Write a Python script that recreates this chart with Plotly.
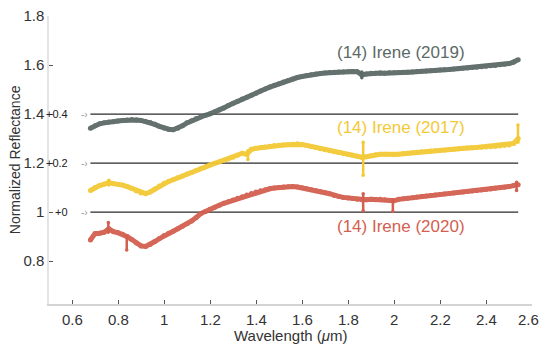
import plotly.graph_objects as go

# Wavelength grid (micrometres)
wavelength = [0.68, 0.70, 0.72, 0.74, 0.76, 0.78, 0.80, 0.82, 0.84, 0.86, 0.88, 0.90,
              0.92, 0.94, 0.96, 0.98, 1.00, 1.02, 1.04, 1.06, 1.08, 1.10, 1.12, 1.14,
              1.16, 1.18, 1.20, 1.22, 1.24, 1.26, 1.28, 1.30, 1.32, 1.34, 1.36, 1.38,
              1.40, 1.42, 1.44, 1.46, 1.48, 1.50, 1.52, 1.54, 1.56, 1.58, 1.60, 1.62,
              1.64, 1.66, 1.68, 1.70, 1.72, 1.74, 1.76, 1.78, 1.80, 1.82, 1.84, 1.86,
              1.88, 1.90, 1.92, 1.94, 1.96, 1.98, 2.00, 2.02, 2.04, 2.06, 2.08, 2.10,
              2.12, 2.14, 2.16, 2.18, 2.20, 2.22, 2.24, 2.26, 2.28, 2.30, 2.32, 2.34,
              2.36, 2.38, 2.40, 2.42, 2.44, 2.46, 2.48, 2.50, 2.52, 2.54]

# (14) Irene 2019, offset +0.4
irene_2019 = [1.342, 1.352, 1.360, 1.364, 1.368, 1.369, 1.372, 1.374, 1.376, 1.378, 1.376, 1.374,
              1.370, 1.365, 1.358, 1.350, 1.343, 1.338, 1.336, 1.342, 1.352, 1.364, 1.373, 1.382,
              1.389, 1.395, 1.401, 1.408, 1.416, 1.425, 1.435, 1.444, 1.452, 1.461, 1.469, 1.477,
              1.485, 1.494, 1.502, 1.510, 1.517, 1.524, 1.531, 1.537, 1.543, 1.549, 1.553, 1.557,
              1.560, 1.563, 1.565, 1.567, 1.569, 1.571, 1.572, 1.572, 1.573, 1.574, 1.573, 1.560,
              1.563, 1.566, 1.566, 1.567, 1.566, 1.568, 1.568, 1.569, 1.570, 1.571, 1.572, 1.574,
              1.575, 1.576, 1.577, 1.578, 1.580, 1.581, 1.582, 1.584, 1.585, 1.587, 1.588, 1.590,
              1.591, 1.593, 1.595, 1.597, 1.598, 1.601, 1.603, 1.606, 1.612, 1.622]

# (14) Irene 2017, offset +0.2
irene_2017 = [1.088, 1.100, 1.108, 1.114, 1.120, 1.116, 1.114, 1.110, 1.104, 1.096, 1.086, 1.078,
              1.075, 1.082, 1.094, 1.106, 1.118, 1.125, 1.132, 1.140, 1.147, 1.155, 1.162, 1.170,
              1.178, 1.185, 1.193, 1.199, 1.205, 1.211, 1.217, 1.224, 1.232, 1.240, 1.236, 1.256,
              1.260, 1.263, 1.266, 1.269, 1.272, 1.273, 1.274, 1.275, 1.277, 1.279, 1.276, 1.272,
              1.268, 1.263, 1.258, 1.254, 1.250, 1.246, 1.243, 1.239, 1.236, 1.232, 1.228, 1.224,
              1.226, 1.230, 1.234, 1.236, 1.236, 1.235, 1.234, 1.236, 1.238, 1.240, 1.242, 1.244,
              1.246, 1.247, 1.249, 1.250, 1.252, 1.253, 1.255, 1.256, 1.258, 1.260, 1.261, 1.262,
              1.264, 1.265, 1.266, 1.267, 1.268, 1.270, 1.272, 1.274, 1.280, 1.300]

# (14) Irene 2020, no offset
irene_2020 = [0.886, 0.912, 0.914, 0.918, 0.932, 0.920, 0.916, 0.910, 0.900, 0.888, 0.874, 0.862,
              0.860, 0.868, 0.880, 0.892, 0.904, 0.914, 0.922, 0.932, 0.942, 0.952, 0.964, 0.978,
              0.994, 1.002, 1.012, 1.020, 1.028, 1.036, 1.042, 1.049, 1.056, 1.063, 1.070, 1.076,
              1.082, 1.087, 1.091, 1.095, 1.098, 1.100, 1.102, 1.103, 1.104, 1.102, 1.099, 1.095,
              1.091, 1.087, 1.083, 1.079, 1.075, 1.068, 1.064, 1.060, 1.057, 1.055, 1.052, 1.050,
              1.050, 1.052, 1.050, 1.052, 1.050, 1.048, 1.046, 1.052, 1.054, 1.056, 1.058, 1.062,
              1.064, 1.066, 1.068, 1.070, 1.072, 1.074, 1.076, 1.078, 1.080, 1.082, 1.084, 1.086,
              1.088, 1.090, 1.092, 1.094, 1.097, 1.099, 1.101, 1.104, 1.108, 1.112]

# Individual noisy channels drawn as short vertical error spans: (wavelength, low, high)
spikes_2019 = [(1.86, 1.548, 1.572)]
spikes_2017 = [(0.76, 1.110, 1.130), (1.365, 1.215, 1.250), (1.866, 1.150, 1.285),
               (2.539, 1.285, 1.355)]
spikes_2020 = [(0.758, 0.918, 0.958), (0.838, 0.845, 0.900), (1.866, 1.005, 1.075),
               (1.995, 1.002, 1.050), (2.533, 1.088, 1.122)]

offset_levels = [1.4, 1.2, 1.0]
offset_labels = ["+0.4", "+0.2", "+0"]

x_tick_values = [0.6, 0.8, 1.0, 1.2, 1.4, 1.6, 1.8, 2.0, 2.2, 2.4, 2.6]
x_tick_labels = ["0.6", "0.8", "1", "1.2", "1.4", "1.6", "1.8", "2", "2.2", "2.4", "2.6"]

series_names = ["(14) Irene (2019)", "(14) Irene (2017)", "(14) Irene (2020)"]
series_label_y = [1.653, 1.347, 0.943]
colors = ["#5c6a67", "#f3c935", "#d35f50"]

font_family = "Liberation Sans, Arial, Helvetica, sans-serif"

fig = go.Figure()

# Offset reference lines behind the spectra
for lvl in offset_levels:
    fig.add_shape(type="line", xref="x", yref="y", x0=wavelength[0], x1=wavelength[-1],
                  y0=lvl, y1=lvl, line=dict(color="#2b2b2b", width=1.2), layer="below")

for refl, spikes, col in zip([irene_2019, irene_2017, irene_2020],
                             [spikes_2019, spikes_2017, spikes_2020], colors):
    fig.add_trace(go.Scatter(x=wavelength, y=refl, mode="lines+markers",
                             line=dict(color=col, width=5),
                             marker=dict(color=col, size=5),
                             opacity=0.95, hoverinfo="skip", showlegend=False))
    sx, sy = [], []
    for w, lo, hi in spikes:
        sx += [w, w, None]
        sy += [lo, hi, None]
    fig.add_trace(go.Scatter(x=sx, y=sy, mode="lines+markers",
                             line=dict(color=col, width=2.5),
                             marker=dict(color=col, size=3.5),
                             hoverinfo="skip", showlegend=False))

# Series labels
for name, ly, col in zip(series_names, series_label_y, colors):
    fig.add_annotation(x=2.03, y=ly, xref="x", yref="y", text=name, showarrow=False,
                       font=dict(family=font_family, size=17, color=col))

# Offset labels next to the y axis
for lvl, lab in zip(offset_levels, offset_labels):
    fig.add_annotation(x=0.0435, y=lvl, xref="paper", yref="y", text=lab, showarrow=False,
                       xanchor="right", font=dict(family=font_family, size=11, color="#222"))
    fig.add_annotation(x=0.0621, y=lvl, xref="paper", yref="y", text="-›", showarrow=False,
                       xanchor="left", font=dict(family=font_family, size=10, color="#9a9a9a"))

# X tick labels, set slightly closer to the axis line; the last one is kept inside the page
for v, lab in zip(x_tick_values, x_tick_labels):
    is_last = v == x_tick_values[-1]
    fig.add_annotation(x=v, y=0, xref="x", yref="paper", text=lab, showarrow=False,
                       xanchor="center", yanchor="top", yshift=-5,
                       xshift=-4 if is_last else 0,
                       font=dict(family=font_family, size=15, color="#333"))

# Axis titles
fig.add_annotation(x=-0.070, y=0.5, xref="paper", yref="paper", text="Normalized Reflectance",
                   textangle=-90, showarrow=False, xanchor="center", yanchor="middle",
                   font=dict(family=font_family, size=14, color="#333"))
fig.add_annotation(x=0.501, y=-0.108, xref="paper", yref="paper",
                   text="Wavelength (<i>μ</i>m)", showarrow=False, xanchor="center",
                   yanchor="middle",
                   font=dict(family=font_family, size=15, color="#333"))

fig.update_layout(
    width=540, height=345,
    margin=dict(l=49, r=8, t=16, b=41),
    paper_bgcolor="white", plot_bgcolor="white",
    font=dict(family=font_family, size=15, color="#333"),
    xaxis=dict(range=[0.5, 2.6], tickvals=x_tick_values, showticklabels=False,
               showgrid=False, zeroline=False,
               showline=True, linecolor="#d4d4d4", linewidth=1.5,
               ticks="inside", ticklen=4, tickcolor="#555", tickwidth=1),
    yaxis=dict(range=[0.625, 1.8], dtick=0.2, tick0=0.8, showgrid=False, zeroline=False,
               showline=True, linecolor="#e4e4e4", linewidth=1.5,
               ticks="inside", ticklen=4, tickcolor="#555", tickwidth=1,
               tickfont=dict(size=15, color="#333")),
)

fig.write_html("out.html")
